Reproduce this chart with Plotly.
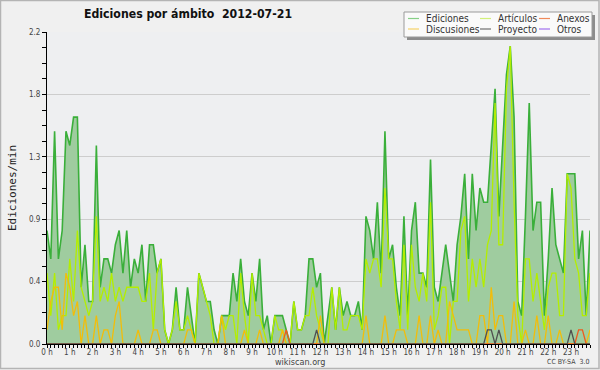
import plotly.graph_objects as go

# ---------------- data ----------------
slot_minutes = list(range(0, 1440, 10))          # 10-minute slots of the day
hours = list(range(24))
hour_labels = [f"{h} h" for h in hours]
y_ticks = [0, 0.44, 0.88, 1.32, 1.76, 2.2]
y_labels = ["0.0", "0.4", "0.9", "1.3", "1.8", "2.2"]

ediciones = [
    0.8, 0.6, 1.5, 0.6, 0.8, 1.5, 1.4, 1.6, 1.6, 0.4, 0.7, 0.3,
    0.3, 1.4, 0.4, 0.6, 0.6, 0.5, 0.7, 0.8, 0.5, 0.8, 0.4, 0.6,
    0.5, 0.7, 0.3, 0.7, 0.7, 0.5, 0.6, 0.1, 0.0, 0.1, 0.4, 0.1,
    0.1, 0.4, 0.2, 0.0, 0.5, 0.4, 0.3, 0.3, 0.1, 0.0, 0.2, 0.2,
    0.2, 0.5, 0.3, 0.6, 0.3, 0.2, 0.5, 0.3, 0.6, 0.1, 0.2, 0.0,
    0.2, 0.2, 0.2, 0.1, 0.0, 0.3, 0.1, 0.1, 0.2, 0.6, 0.6, 0.4,
    0.5, 0.0, 0.2, 0.4, 0.1, 0.4, 0.2, 0.3, 0.2, 0.2, 0.3, 0.1,
    0.9, 0.8, 0.6, 1.0, 0.5, 1.5, 0.6, 0.7, 0.4, 0.2, 0.9, 0.2,
    0.8, 1.0, 0.5, 0.5, 0.4, 1.3, 0.4, 0.3, 0.5, 0.7, 0.5, 0.3,
    0.7, 0.9, 1.2, 0.6, 1.2, 0.8, 1.1, 1.0, 1.0, 1.4, 1.8, 0.9,
    1.4, 1.9, 2.1, 1.6, 0.3, 0.2, 0.9, 1.7, 0.8, 1.0, 1.0, 0.2,
    0.6, 1.1, 0.7, 0.6, 0.5, 1.2, 1.2, 1.2, 0.6, 0.8, 0.2, 0.8,
]

articulos = [
    0.5, 0.2, 0.5, 0.1, 0.2, 0.2, 0.6, 0.3, 0.8, 0.4, 0.3, 0.2,
    0.3, 0.9, 0.3, 0.4, 0.3, 0.5, 0.3, 0.4, 0.3, 0.4, 0.4, 0.4,
    0.4, 0.3, 0.3, 0.5, 0.1, 0.5, 0.6, 0.1, 0.0, 0.1, 0.3, 0.1,
    0.1, 0.2, 0.1, 0.0, 0.5, 0.4, 0.3, 0.2, 0.0, 0.0, 0.2, 0.1,
    0.2, 0.2, 0.0, 0.5, 0.2, 0.0, 0.5, 0.2, 0.2, 0.1, 0.0, 0.0,
    0.2, 0.1, 0.1, 0.0, 0.0, 0.3, 0.1, 0.1, 0.2, 0.2, 0.4, 0.2,
    0.1, 0.0, 0.0, 0.4, 0.1, 0.4, 0.1, 0.1, 0.2, 0.2, 0.2, 0.1,
    0.6, 0.5, 0.6, 0.6, 0.4, 1.1, 0.6, 0.6, 0.3, 0.1, 0.7, 0.1,
    0.7, 0.4, 0.3, 0.5, 0.3, 1.0, 0.1, 0.2, 0.4, 0.4, 0.0, 0.3,
    0.3, 0.8, 0.9, 0.3, 0.6, 0.4, 0.6, 0.4, 0.7, 0.8, 1.7, 0.7,
    0.7, 1.8, 2.1, 1.0, 0.2, 0.0, 0.6, 0.6, 0.3, 0.5, 0.3, 0.1,
    0.4, 0.5, 0.5, 0.2, 0.2, 1.2, 1.1, 0.6, 0.5, 0.2, 0.2, 0.5,
]

discusiones = [
    0.1, 0.3, 0.4, 0.4, 0.1, 0.5, 0.4, 0.2, 0.3, 0.0, 0.2, 0.0,
    0.0, 0.2, 0.0, 0.1, 0.1, 0.0, 0.2, 0.3, 0.0, 0.0, 0.0, 0.0,
    0.1, 0.0, 0.0, 0.0, 0.1, 0.1, 0.0, 0.0, 0.0, 0.0, 0.0, 0.0,
    0.0, 0.1, 0.1, 0.0, 0.0, 0.0, 0.0, 0.0, 0.0, 0.0, 0.2, 0.0,
    0.0, 0.0, 0.0, 0.0, 0.1, 0.0, 0.0, 0.0, 0.1, 0.0, 0.0, 0.0,
    0.0, 0.0, 0.1, 0.0, 0.0, 0.0, 0.0, 0.0, 0.0, 0.0, 0.0, 0.0,
    0.2, 0.0, 0.0, 0.0, 0.0, 0.0, 0.0, 0.0, 0.0, 0.0, 0.0, 0.0,
    0.2, 0.0, 0.0, 0.0, 0.0, 0.2, 0.0, 0.0, 0.1, 0.1, 0.1, 0.0,
    0.0, 0.0, 0.2, 0.0, 0.0, 0.2, 0.0, 0.1, 0.0, 0.0, 0.3, 0.2,
    0.1, 0.1, 0.1, 0.1, 0.0, 0.0, 0.2, 0.2, 0.0, 0.4, 0.1, 0.2,
    0.2, 0.0, 0.0, 0.3, 0.0, 0.0, 0.1, 0.0, 0.0, 0.2, 0.0, 0.0,
    0.2, 0.0, 0.0, 0.1, 0.0, 0.0, 0.0, 0.0, 0.0, 0.0, 0.0, 0.1,
]

anexos = [
    0.0, 0.0, 0.0, 0.0, 0.0, 0.0, 0.0, 0.0, 0.0, 0.0, 0.0, 0.0,
    0.0, 0.0, 0.0, 0.0, 0.0, 0.0, 0.0, 0.0, 0.0, 0.0, 0.0, 0.0,
    0.0, 0.0, 0.0, 0.0, 0.0, 0.0, 0.0, 0.0, 0.0, 0.0, 0.0, 0.0,
    0.0, 0.0, 0.0, 0.0, 0.0, 0.0, 0.0, 0.0, 0.0, 0.0, 0.0, 0.0,
    0.0, 0.0, 0.0, 0.0, 0.0, 0.0, 0.0, 0.0, 0.0, 0.0, 0.0, 0.0,
    0.0, 0.0, 0.0, 0.1, 0.0, 0.0, 0.0, 0.0, 0.0, 0.0, 0.0, 0.0,
    0.0, 0.0, 0.0, 0.0, 0.0, 0.0, 0.0, 0.0, 0.0, 0.0, 0.0, 0.0,
    0.0, 0.0, 0.0, 0.0, 0.0, 0.0, 0.0, 0.0, 0.0, 0.0, 0.0, 0.0,
    0.0, 0.0, 0.0, 0.0, 0.0, 0.0, 0.0, 0.0, 0.0, 0.0, 0.0, 0.0,
    0.0, 0.0, 0.0, 0.0, 0.0, 0.0, 0.0, 0.0, 0.0, 0.0, 0.0, 0.0,
    0.0, 0.0, 0.0, 0.0, 0.0, 0.0, 0.0, 0.0, 0.0, 0.0, 0.0, 0.0,
    0.0, 0.0, 0.0, 0.0, 0.0, 0.0, 0.0, 0.0, 0.1, 0.1, 0.0, 0.0,
]

proyecto = [
    0.0, 0.0, 0.0, 0.0, 0.0, 0.0, 0.0, 0.0, 0.0, 0.0, 0.0, 0.0,
    0.0, 0.0, 0.0, 0.0, 0.0, 0.0, 0.0, 0.0, 0.0, 0.0, 0.0, 0.0,
    0.0, 0.0, 0.0, 0.0, 0.0, 0.0, 0.0, 0.0, 0.0, 0.0, 0.0, 0.0,
    0.0, 0.0, 0.0, 0.0, 0.0, 0.0, 0.0, 0.0, 0.0, 0.0, 0.0, 0.0,
    0.0, 0.0, 0.0, 0.0, 0.0, 0.0, 0.0, 0.0, 0.0, 0.0, 0.0, 0.0,
    0.0, 0.0, 0.0, 0.0, 0.0, 0.0, 0.0, 0.0, 0.0, 0.0, 0.0, 0.1,
    0.0, 0.0, 0.0, 0.0, 0.0, 0.0, 0.0, 0.0, 0.0, 0.0, 0.0, 0.0,
    0.0, 0.0, 0.0, 0.0, 0.0, 0.0, 0.0, 0.0, 0.0, 0.0, 0.0, 0.0,
    0.0, 0.0, 0.0, 0.0, 0.0, 0.0, 0.0, 0.0, 0.0, 0.0, 0.0, 0.0,
    0.0, 0.0, 0.0, 0.0, 0.0, 0.0, 0.0, 0.0, 0.1, 0.1, 0.0, 0.1,
    0.0, 0.0, 0.0, 0.0, 0.0, 0.0, 0.0, 0.0, 0.0, 0.0, 0.0, 0.0,
    0.0, 0.0, 0.0, 0.0, 0.0, 0.0, 0.1, 0.0, 0.0, 0.0, 0.0, 0.0,
]

otros = [
    0.0, 0.0, 0.0, 0.0, 0.0, 0.0, 0.0, 0.0, 0.0, 0.0, 0.0, 0.0,
    0.0, 0.0, 0.0, 0.0, 0.0, 0.0, 0.0, 0.0, 0.0, 0.0, 0.0, 0.0,
    0.0, 0.0, 0.0, 0.0, 0.0, 0.0, 0.0, 0.0, 0.0, 0.0, 0.0, 0.0,
    0.0, 0.0, 0.0, 0.0, 0.0, 0.0, 0.0, 0.0, 0.0, 0.0, 0.0, 0.0,
    0.0, 0.0, 0.0, 0.0, 0.0, 0.0, 0.0, 0.0, 0.0, 0.0, 0.0, 0.0,
    0.0, 0.0, 0.0, 0.0, 0.0, 0.0, 0.0, 0.0, 0.0, 0.0, 0.0, 0.0,
    0.0, 0.0, 0.0, 0.0, 0.0, 0.0, 0.0, 0.0, 0.0, 0.0, 0.0, 0.0,
    0.0, 0.0, 0.0, 0.0, 0.0, 0.0, 0.0, 0.0, 0.0, 0.0, 0.0, 0.0,
    0.0, 0.0, 0.0, 0.0, 0.0, 0.0, 0.0, 0.0, 0.0, 0.0, 0.0, 0.0,
    0.0, 0.0, 0.0, 0.0, 0.0, 0.0, 0.0, 0.0, 0.0, 0.0, 0.0, 0.0,
    0.0, 0.0, 0.0, 0.0, 0.0, 0.0, 0.0, 0.0, 0.0, 0.0, 0.0, 0.0,
    0.0, 0.0, 0.0, 0.0, 0.0, 0.0, 0.0, 0.0, 0.0, 0.0, 0.0, 0.0,
]

series_names = ["Ediciones", "Artículos", "Anexos", "Discusiones", "Proyecto", "Otros"]

# ---------------- styling ----------------
W, H = 600, 370
ML, MR, MT, MB = 47, 10, 32, 26
PW = W - ML - MR
PH = H - MT - MB

def px(x):
    return (x - ML) / PW

def py(y):
    return (H - MB - y) / PH

COL = {
    "Ediciones": "#3aaf3a",
    "Artículos": "#b4ee00",
    "Anexos": "#ee5a1e",
    "Discusiones": "#f2bd0a",
    "Proyecto": "#505050",
    "Otros": "#9446e6",
}
LEG_COL = {
    "Ediciones": "#86cf86",
    "Artículos": "#d2f07a",
    "Anexos": "#f08a5a",
    "Discusiones": "#f5d268",
    "Proyecto": "#707070",
    "Otros": "#a070ee",
}

x_hours = [m / 60 for m in slot_minutes]

fig = go.Figure()
fig.add_trace(go.Scatter(x=x_hours, y=otros, mode="lines", name="Otros",
                         line=dict(color=COL["Otros"], width=1.2), hoverinfo="skip"))
fig.add_trace(go.Scatter(x=x_hours, y=ediciones, mode="lines", name="Ediciones",
                         line=dict(color=COL["Ediciones"], width=1.6),
                         fill="tozeroy", fillcolor="#9fcc9f", hoverinfo="skip"))
fig.add_trace(go.Scatter(x=x_hours, y=articulos, mode="lines", name="Artículos",
                         line=dict(color=COL["Artículos"], width=1.3), hoverinfo="skip"))
fig.add_trace(go.Scatter(x=x_hours, y=discusiones, mode="lines", name="Discusiones",
                         line=dict(color=COL["Discusiones"], width=1.3), hoverinfo="skip"))
fig.add_trace(go.Scatter(x=x_hours, y=anexos, mode="lines", name="Anexos",
                         line=dict(color=COL["Anexos"], width=1.3), hoverinfo="skip"))
fig.add_trace(go.Scatter(x=x_hours, y=proyecto, mode="lines", name="Proyecto",
                         line=dict(color=COL["Proyecto"], width=1.3), hoverinfo="skip"))

tick_font = dict(family="DejaVu Sans Condensed, DejaVu Sans, sans-serif", size=8, color="#444444")

fig.update_layout(
    width=W, height=H,
    margin=dict(l=ML, r=MR, t=MT, b=MB),
    paper_bgcolor="#f0f0f0",
    plot_bgcolor="#eeeff1",
    showlegend=False,
    xaxis=dict(
        range=[0, x_hours[-1]], tickmode="array", tickvals=hours, ticktext=hour_labels,
        showline=True, linecolor="black", linewidth=1, ticks="outside", ticklen=3,
        tickcolor="black", tickwidth=1, showgrid=False, zeroline=False,
        tickfont=tick_font, ticklabelstandoff=-3,
        minor=dict(tick0=0, dtick=1 / 6, ticks="outside", ticklen=3, tickcolor="black", showgrid=False),
    ),
    yaxis=dict(
        range=[0, 2.2], tickmode="array", tickvals=y_ticks, ticktext=y_labels,
        showline=True, linecolor="black", linewidth=1, ticks="outside", ticklen=4,
        tickcolor="black", tickwidth=1, showgrid=True, gridcolor="#cdcdcd", gridwidth=1,
        zeroline=False, tickfont=tick_font,
        minor=dict(tick0=0, dtick=0.11, ticks="outside", ticklen=4, tickcolor="black", showgrid=False),
    ),
)

annotations = []
# title
annotations.append(dict(
    text="Ediciones por ámbito\u00a0\u00a02012-07-21", xref="paper", yref="paper",
    x=px(188), y=py(14), xanchor="center", yanchor="middle", showarrow=False,
    font=dict(family="DejaVu Sans Condensed, Liberation Sans, sans-serif", size=12.2,
              color="#111111", weight="bold"),
))
# y axis title
annotations.append(dict(
    text="Ediciones/min", xref="paper", yref="paper", x=px(12), y=py(188),
    xanchor="center", yanchor="middle", textangle=-90, showarrow=False,
    font=dict(family="DejaVu Sans Mono, monospace", size=11, color="#222222"),
))
# footer
annotations.append(dict(
    text="wikiscan.org", xref="paper", yref="paper", x=px(300), y=py(362),
    xanchor="center", yanchor="middle", showarrow=False,
    font=dict(family="DejaVu Sans Condensed, DejaVu Sans, sans-serif", size=9, color="#444444"),
))
annotations.append(dict(
    text="CC BY-SA\u00a0\u00a03.0", xref="paper", yref="paper", x=px(591), y=py(362),
    xanchor="right", yanchor="middle", showarrow=False,
    font=dict(family="DejaVu Sans Condensed, DejaVu Sans, sans-serif", size=7, color="#444444"),
))

shapes = []
# outer frame
shapes.append(dict(type="rect", xref="paper", yref="paper",
                   x0=px(0.5), x1=px(599), y0=py(0.5), y1=py(368.5),
                   line=dict(color="#b4b4b4", width=1.5), fillcolor="rgba(0,0,0,0)", layer="above"))
# legend shadow and box
shapes.append(dict(type="rect", xref="paper", yref="paper",
                   x0=px(407), x1=px(595), y0=py(15), y1=py(40),
                   line=dict(width=0), fillcolor="#8c8c8c", layer="above"))
shapes.append(dict(type="rect", xref="paper", yref="paper",
                   x0=px(404), x1=px(592), y0=py(12), y1=py(37),
                   line=dict(color="#9a9a9a", width=1), fillcolor="#fafafa", layer="above"))

legend_layout = [
    ("Ediciones", 408, 18.5), ("Artículos", 480, 18.5), ("Anexos", 539, 18.5),
    ("Discusiones", 408, 29), ("Proyecto", 480, 29), ("Otros", 539, 29),
]
for name, lx, ly in legend_layout:
    shapes.append(dict(type="line", xref="paper", yref="paper",
                       x0=px(lx), x1=px(lx + 11), y0=py(ly), y1=py(ly),
                       line=dict(color=LEG_COL[name], width=1.2), layer="above"))
    annotations.append(dict(
        text=name, xref="paper", yref="paper", x=px(lx + 16), y=py(ly),
        xanchor="left", yanchor="middle", showarrow=False,
        font=dict(family="DejaVu Sans Condensed, DejaVu Sans, sans-serif", size=10, color="#333333"),
    ))

fig.update_layout(annotations=annotations, shapes=shapes)

fig.write_html("out.html", config={"displayModeBar": False},
               post_script="document.body.style.margin='0';document.body.style.overflow='hidden';")
